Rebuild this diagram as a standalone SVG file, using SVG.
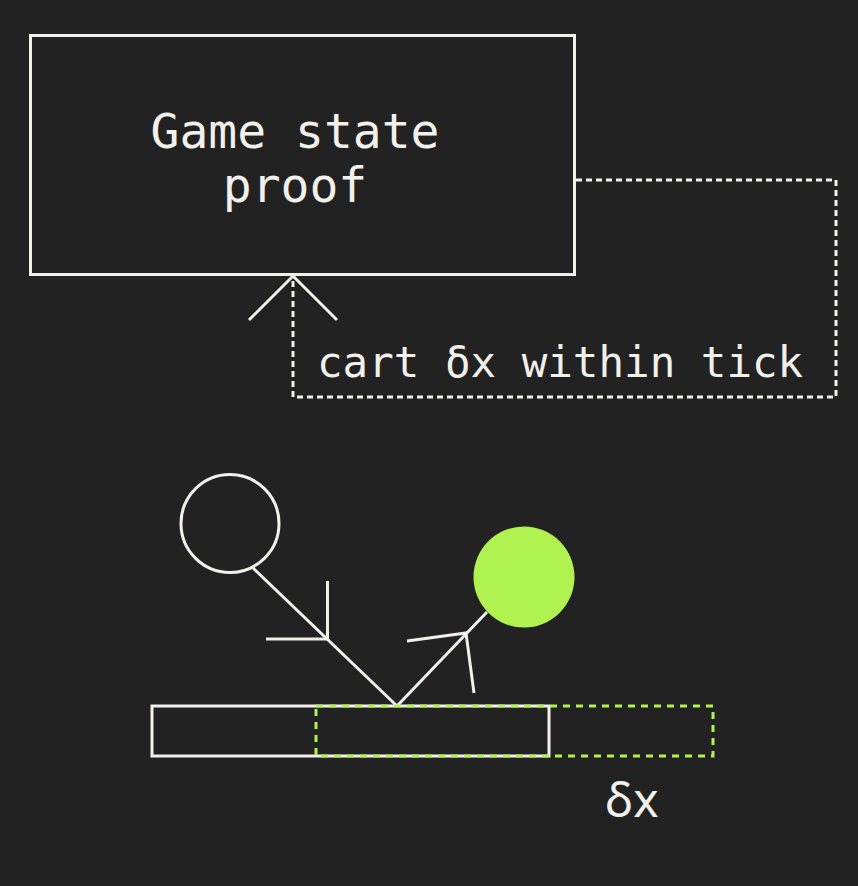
<svg xmlns="http://www.w3.org/2000/svg" width="858" height="886" viewBox="0 0 858 886">
  <style>
    .ln { fill: none; stroke: #f2f0ea; stroke-width: 3; }
    .dot { fill: none; stroke: #f2f0ea; stroke-width: 3; stroke-dasharray: 6 4; }
    .gdash { fill: none; stroke: #b0f24f; stroke-width: 3; stroke-dasharray: 7 6; }
    .mono { font-family: "DejaVu Sans Mono", "Liberation Mono", monospace; fill: #f2f0ea; }
    .sans { font-family: "Noto Sans", "DejaVu Sans", sans-serif; fill: #f2f0ea; }
  </style>
  <rect width="858" height="886" fill="#222222"/>

  <!-- proof box -->
  <g id="proof">
    <rect class="ln" x="30.5" y="35.5" width="544" height="239"/>
    <text class="mono" font-size="48" text-anchor="middle" x="295" y="148">Game state</text>
    <text class="mono" font-size="48" text-anchor="middle" x="295" y="202">proof</text>
  </g>

  <!-- feedback loop from the proof to itself -->
  <g id="connectors">
    <polyline class="dot" points="576,180 836,180 836,397 293,397 293,277"/>
    <polyline class="ln" points="249,320 293,276 337,320"/>
    <text class="mono" font-size="42.5" x="317" y="377">cart δx within tick</text>
  </g>

  <!-- ball bounce on the cart -->
  <g id="ball-before">
    <circle class="ln" cx="230" cy="523.5" r="49"/>
  </g>
  <g id="ball-after">
    <circle cx="524" cy="577" r="50.5" fill="#b0f24f"/>
  </g>
  <g id="trajectory">
    <line class="ln" x1="253" y1="568" x2="397" y2="706"/>
    <polyline class="ln" points="327.5,581 327.5,639 266,639"/>
    <line class="ln" x1="397" y1="706" x2="487" y2="612"/>
    <polyline class="ln" points="407,641 466,633 474,693"/>
  </g>

  <g id="cart">
    <rect class="ln" x="152" y="706" width="397" height="50"/>
    <rect class="gdash" x="316" y="706" width="397" height="50"/>
    <text class="sans" font-size="48" x="605" y="817">δx</text>
  </g>
</svg>
